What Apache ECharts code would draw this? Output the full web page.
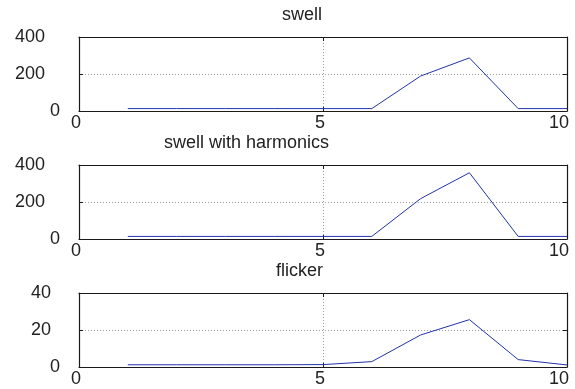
<!DOCTYPE html>
<html>
<head>
<meta charset="utf-8">
<script src="https://cdn.jsdelivr.net/npm/echarts@6/dist/echarts.min.js"></script>
<style>html,body{margin:0;padding:0;background:#fff}#c{width:575px;height:389px}</style>
</head>
<body>
<div id="c"></div>
<script>
const xValues = [1, 2, 3, 4, 5, 6, 7, 8, 9, 10];
const swell = [13, 13, 13, 13, 13, 13, 189, 287, 13, 13];
const swellHarmonics = [14, 14, 14, 14, 14, 14, 218, 358, 14, 14];
const flicker = [1.2, 1.2, 1.2, 1.2, 1.3, 2.9, 17.3, 25.6, 4.0, 1.1];
const titles = ['swell', 'swell with harmonics', 'flicker'];
const xTicks = [0, 5, 10];
const yRanges = [[0, 400, 200], [0, 400, 200], [0, 40, 20]];
const seriesData = [swell, swellHarmonics, flicker];

const FONT = 'Liberation Sans, Arial, sans-serif';
const gridTops = [37, 165, 293];
const titleLefts = [282, 164, 276];
const titleTops = [6, 134, 262];

const grids = [], xAxes = [], yAxes = [], series = [], titleArr = [];
for (let i = 0; i < 3; i++) {
  grids.push({left: 79, right: 8, top: gridTops[i], height: 74, containLabel: false});
  titleArr.push({text: titles[i], left: titleLefts[i], top: titleTops[i], padding: 0,
    textStyle: {fontFamily: FONT, fontSize: 18, fontWeight: 'normal', color: '#222'}});
  const common = {type: 'value', gridIndex: i, min: xTicks[0], max: xTicks[2], interval: xTicks[1] - xTicks[0]};
  xAxes.push(Object.assign({}, common, {
    position: 'bottom',
    axisLine: {show: true, onZero: false, lineStyle: {color: '#1a1a1a', width: 1.2}},
    axisTick: {show: true, inside: true, length: 4, lineStyle: {color: '#1a1a1a'}},
    axisLabel: {show: true, fontFamily: FONT, fontSize: 18, color: '#222', margin: 3, align: 'right',
      padding: [0, -2, 0, 0]},
    splitLine: {show: true, lineStyle: {type: [1, 2], color: '#999', width: 1}}
  }));
  xAxes.push(Object.assign({}, common, {
    position: 'top', z: 3,
    axisLine: {show: true, onZero: false, lineStyle: {color: '#1a1a1a', width: 1.2}},
    axisTick: {show: true, inside: true, length: 4, lineStyle: {color: '#1a1a1a'}},
    axisLabel: {show: false}, splitLine: {show: false}
  }));
  const yr = yRanges[i];
  const ycommon = {type: 'value', gridIndex: i, min: yr[0], max: yr[1], interval: yr[2]};
  yAxes.push(Object.assign({}, ycommon, {
    position: 'left',
    axisLine: {show: true, onZero: false, lineStyle: {color: '#1a1a1a', width: 1.2}},
    axisTick: {show: true, inside: true, length: 4, lineStyle: {color: '#1a1a1a'}},
    axisLabel: {show: true, fontFamily: FONT, fontSize: 18, color: '#222', margin: 64, align: 'left',
      formatter: v => { const s = String(v); return '{p' + s.length + '|' + s + '}'; },
      rich: {
        p1: {fontFamily: FONT, fontSize: 18, color: '#222', padding: [0, 0, 0, 35]},
        p2: {fontFamily: FONT, fontSize: 18, color: '#222', padding: [0, 0, 0, 16]},
        p3: {fontFamily: FONT, fontSize: 18, color: '#222', padding: [0, 0, 0, 0]}
      }},
    splitLine: {show: true, lineStyle: {type: [1, 2], color: '#999', width: 1}}
  }));
  yAxes.push(Object.assign({}, ycommon, {
    position: 'right', z: 3,
    axisLine: {show: true, onZero: false, lineStyle: {color: '#1a1a1a', width: 1.2}},
    axisTick: {show: true, inside: true, length: 4, lineStyle: {color: '#1a1a1a'}},
    axisLabel: {show: false}, splitLine: {show: false}
  }));
  series.push({
    type: 'line', xAxisIndex: 2 * i, yAxisIndex: 2 * i,
    data: xValues.map((x, k) => [x, seriesData[i][k]]),
    showSymbol: false, symbol: 'none', animation: false,
    lineStyle: {color: '#2233aa', width: 1}
  });
}

const chart = echarts.init(document.getElementById('c'), null, {renderer: 'canvas'});
chart.setOption({
  animation: false,
  backgroundColor: '#fff',
  title: titleArr,
  grid: grids,
  xAxis: xAxes,
  yAxis: yAxes,
  series: series
});
</script>
</body>
</html>
